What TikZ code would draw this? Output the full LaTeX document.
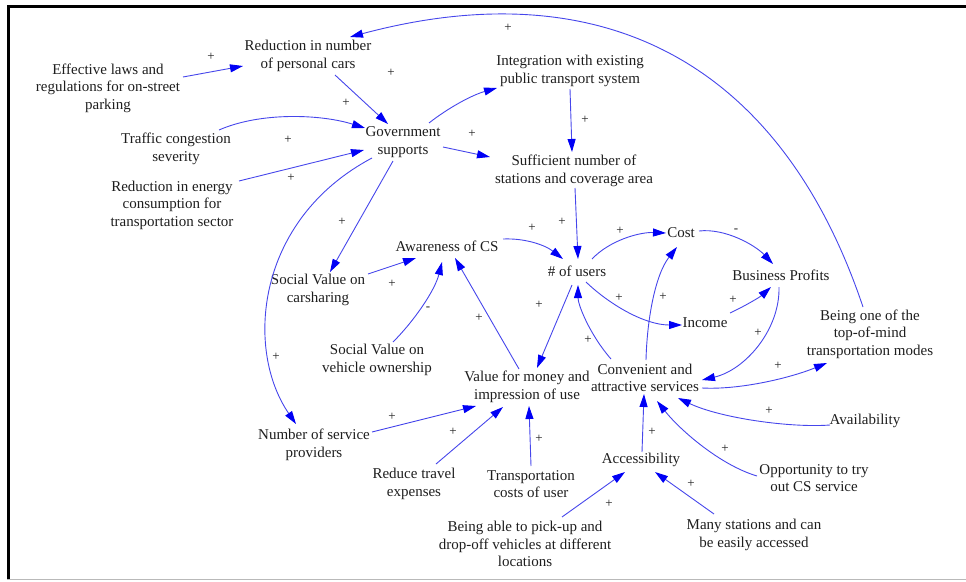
\documentclass[tikz,border=0pt]{standalone}
\usepackage{fontspec}
\setmainfont{Liberation Serif}
\usetikzlibrary{arrows.meta,calc}
\definecolor{txt}{RGB}{30,30,30}
\definecolor{lin}{RGB}{70,70,235}
\definecolor{tipc}{RGB}{0,0,245}
\begin{document}
\begin{tikzpicture}[x=1pt,y=-1pt,
  n/.style={align=center,inner sep=0pt,text=txt,font=\fontsize{15}{17.5}\selectfont},
  lbl/.style={inner sep=0pt,text=txt,font=\fontsize{13}{13}\selectfont},
  arr/.style={draw=lin,line width=0.9pt,-{Triangle[length=13pt,width=8pt,color=tipc]}}]
\useasboundingbox (0,0) rectangle (966,581);
% frame
\draw[line width=2.5pt] (7,6.5) -- (966,6.5);
\draw[line width=2.5pt] (8.5,5.5) -- (8.5,579);
\draw[gray!55,line width=1.5pt] (7,579.5) -- (966,579.5);
% nodes
\node[n] (red) at (308,56) {Reduction in number\\of personal cars};
\node[n] (eff) at (108,88) {Effective laws and\\regulations for on-street\\parking};
\node[n] (traf) at (176,149) {Traffic congestion\\severity};
\node[n] (ener) at (172,205) {Reduction in energy\\consumption for\\transportation sector};
\node[n] (gov) at (403,142) {Government\\supports};
\node[n] (integ) at (570,71) {Integration with existing\\public transport system};
\node[n] (suff) at (574,171) {Sufficient number of\\stations and coverage area};
\node[n] (aware) at (447,246) {Awareness of CS};
\node[n] (users) at (577,271) {\# of users};
\node[n] (cost) at (681,233) {Cost};
\node[n] (bp) at (781,275) {Business Profits};
\node[n] (inc) at (705,323) {Income};
\node[n] (top) at (870,334) {Being one of the\\top-of-mind\\transportation modes};
\node[n] (svc) at (318,290) {Social Value on\\carsharing};
\node[n] (svo) at (377,360) {Social Value on\\vehicle ownership};
\node[n] (vfm) at (527,387) {Value for money and\\impression of use};
\node[n] (conv) at (645,378) {Convenient and\\attractive services};
\node[n] (nsp) at (314,445) {Number of service\\providers};
\node[n] (rte) at (414,484) {Reduce travel\\expenses};
\node[n] (tcu) at (531,484) {Transportation\\costs of user};
\node[n] (acc) at (641,460) {Accessibility};
\node[n] (pick) at (525,544) {Being able to pick-up and\\drop-off vehicles at different\\locations};
\node[n] (avail) at (865,421) {Availability};
\node[n] (opp) at (814,478) {Opportunity to try\\out CS service};
\node[n] (many) at (754,535) {Many stations and can\\be easily accessed};
% connectors
\draw[arr] ($(eff)+(75,-11)$) -- ($(red)+(-65,10)$);
\draw[arr] ($(red)+(27,19)$) -- ($(gov)+(-15,-18)$);
\draw[arr] ($(traf)+(43,-19)$) .. controls (260,112) and (320,114) .. ($(gov)+(-38,-14)$);
\draw[arr] ($(ener)+(67,-24)$) -- ($(gov)+(-39,8)$);
\draw[arr] ($(gov)+(26,-19)$) .. controls (448,108) and (472,95) .. ($(integ)+(-73,17)$);
\draw[arr] ($(gov)+(40,5)$) -- ($(suff)+(-84,-14)$);
\draw[arr] ($(integ)+(0,18)$) -- ($(suff)+(-2,-19)$);
\draw[arr] ($(suff)+(1,17)$) -- ($(users)+(1,-12)$);
\draw[arr] ($(gov)+(-10,19)$) -- ($(svc)+(12,-18)$);
\draw[arr] ($(gov)+(-31,16)$) .. controls (255,220) and (245,350) .. ($(nsp)+(-18,-21)$);
\draw[arr] ($(svc)+(50,-16)$) -- ($(aware)+(-31,12)$);
\draw[arr] ($(svo)+(16,-18)$) .. controls (415,320) and (435,290) .. ($(aware)+(-5,16)$);
\draw[arr] ($(vfm)+(-8,-18)$) -- ($(aware)+(8,12)$);
\draw[arr] ($(aware)+(56,-7)$) .. controls (525,238) and (545,245) .. ($(users)+(-14,-12)$);
\draw[arr] ($(users)+(-5,14)$) -- ($(vfm)+(10,-19)$);
\draw[arr] ($(conv)+(-34,-19)$) .. controls (590,335) and (578,305) .. ($(users)+(1,14)$);
\draw[arr] ($(users)+(15,-12)$) .. controls (610,240) and (640,232) .. ($(cost)+(-15,0)$);
\draw[arr] ($(users)+(9,11)$) .. controls (610,305) and (645,325) .. ($(inc)+(-23,2)$);
\draw[arr] ($(conv)+(1,-18)$) .. controls (647,320) and (655,275) .. ($(cost)+(-4,14)$);
\draw[arr] ($(cost)+(18,-2)$) .. controls (725,228) and (755,245) .. ($(bp)+(-8,-11)$);
\draw[arr] ($(inc)+(25,-10)$) .. controls (745,306) and (760,297) .. ($(bp)+(-10,12)$);
\draw[arr] ($(bp)+(-2,12)$) .. controls (780,330) and (745,370) .. ($(conv)+(57,2)$);
\draw[arr] ($(conv)+(57,10)$) .. controls (740,390) and (790,378) .. ($(top)+(-43,29)$);
\draw[arr] ($(top)+(-7,-27)$) .. controls (780,60) and (600,-30) .. ($(red)+(42,-19)$);
\draw[arr] ($(avail)+(-35,4)$) .. controls (790,428) and (720,418) .. ($(conv)+(33,20)$);
\draw[arr] ($(opp)+(-57,-2)$) .. controls (720,465) and (680,430) .. ($(conv)+(12,23)$);
\draw[arr] ($(acc)+(1,-8)$) -- ($(conv)+(-1,16)$);
\draw[arr] ($(many)+(-40,-21)$) -- ($(acc)+(14,12)$);
\draw[arr] ($(pick)+(37,-27)$) -- ($(acc)+(-16,12)$);
\draw[arr] ($(nsp)+(58,-13)$) -- ($(vfm)+(-51,19)$);
\draw[arr] ($(rte)+(22,-20)$) -- ($(vfm)+(-24,20)$);
\draw[arr] ($(tcu)+(0,-18)$) -- ($(vfm)+(2,19)$);
% polarity labels
\node[lbl] (l1) at (211,57) {+};
\node[lbl] (l2) at (508,28) {+};
\node[lbl] (l3) at (391,73) {+};
\node[lbl] (l4) at (346,103) {+};
\node[lbl] (l5) at (288,140) {+};
\node[lbl] (l6) at (291,178) {+};
\node[lbl] (l7) at (472,134) {+};
\node[lbl] (l8) at (585,120) {+};
\node[lbl] (l9) at (342,222) {+};
\node[lbl] (l10) at (562,222) {+};
\node[lbl] (l11) at (532,228) {+};
\node[lbl] (l12) at (620,231) {+};
\node[lbl] (l13) at (736,231) {-};
\node[lbl] (l14) at (392,284) {+};
\node[lbl] (l15) at (428,309) {-};
\node[lbl] (l16) at (479,318) {+};
\node[lbl] (l17) at (539,305) {+};
\node[lbl] (l18) at (619,298) {+};
\node[lbl] (l19) at (663,297) {+};
\node[lbl] (l20) at (733,300) {+};
\node[lbl] (l21) at (758,333) {+};
\node[lbl] (l22) at (588,340) {+};
\node[lbl] (l23) at (778,366) {+};
\node[lbl] (l24) at (276,357) {+};
\node[lbl] (l25) at (392,417) {+};
\node[lbl] (l26) at (453,432) {+};
\node[lbl] (l27) at (539,439) {+};
\node[lbl] (l28) at (769,411) {+};
\node[lbl] (l29) at (652,432) {+};
\node[lbl] (l30) at (725,449) {+};
\node[lbl] (l31) at (691,484) {+};
\node[lbl] (l32) at (609,504) {+};
\end{tikzpicture}
\end{document}
